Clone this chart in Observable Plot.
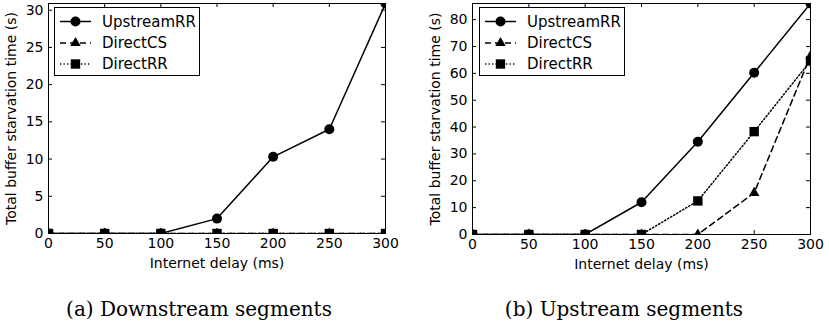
<!DOCTYPE html>
<html><head><meta charset="utf-8">
<script src="https://cdn.jsdelivr.net/npm/d3@7"></script>
<script src="https://cdn.jsdelivr.net/npm/@observablehq/plot@0.6"></script>
<style>
html,body{margin:0;padding:0;background:#fff;}
#root{position:relative;width:829px;height:329px;overflow:hidden;font-family:"DejaVu Sans";}
.panel{position:absolute;top:0;}
.cap{position:absolute;font-family:"DejaVu Serif";font-size:20px;white-space:nowrap;transform:translateX(-50%);line-height:1;color:#000;}
</style></head>
<body><div id="root"></div>
<script>
const delays = [0, 50, 100, 150, 200, 250, 300];
const seriesNames = ["UpstreamRR", "DirectCS", "DirectRR"];
// (a) Downstream segments
const downUpstreamRR = [0, 0, 0, 2.0, 10.3, 14.0, 30.9];
const downDirectCS   = [0, 0, 0, 0, 0, 0, 0];
const downDirectRR   = [0, 0, 0, 0, 0, 0, 0];
// (b) Upstream segments
const upUpstreamRR = [0, 0, 0, 12.0, 34.5, 60.2, 86.0];
const upDirectCS   = [0, 0, 0, 0, 0, 15.5, 66.5];
const upDirectRR   = [0, 0, 0, 0, 12.5, 38.3, 64.6];
const xTicks = [0, 50, 100, 150, 200, 250, 300];
const yTicksDown = [0, 5, 10, 15, 20, 25, 30];
const yTicksUp = [0, 10, 20, 30, 40, 50, 60, 70, 80];
const xLabel = "Internet delay (ms)";
const yLabel = "Total buffer starvation time (s)";
const captions = ["(a) Downstream segments", "(b) Upstream segments"];

const styles = {
  UpstreamRR: {dash: null, symbol: "circle", r: 5},
  DirectCS: {dash: "6,4", symbol: "triangle", r: 3.9},
  DirectRR: {dash: "1.3,2.2", symbol: "square", r: 5.3}
};

function makePanel(values, yTicks, opt) {
  const data = [];
  seriesNames.forEach((s, i) => delays.forEach((d, j) => data.push({series: s, x: d, y: values[i][j]})));
  const ymax = d3.max(data, d => d.y);
  const H = 280, mt = 3;
  const ph = H - mt - opt.mb, pw = opt.width - opt.ml - opt.mr, tl = 4;
  const marks = [];
  seriesNames.forEach(s => {
    const sd = data.filter(d => d.series === s);
    marks.push(Plot.line(sd, {x: "x", y: "y", stroke: "black", strokeWidth: 1.5, strokeDasharray: styles[s].dash, clip: true}));
    marks.push(Plot.dot(sd, {x: "x", y: "y", symbol: styles[s].symbol, r: styles[s].r, fill: "black", stroke: "none", clip: true}));
  });
  const svg = Plot.plot({
    width: opt.width, height: H,
    marginLeft: opt.ml, marginRight: opt.mr, marginTop: mt, marginBottom: opt.mb,
    style: {fontFamily: "DejaVu Sans", fontSize: "14px", background: "white", color: "black"},
    x: {domain: [0, 300]},
    y: {domain: [0, ymax]},
    marks: [
      ...marks,
      // inward tick marks on all four sides
      Plot.tickX(xTicks, {x: d => d, stroke: "black", insetTop: ph - tl}),
      Plot.tickX(xTicks, {x: d => d, stroke: "black", insetBottom: ph - tl}),
      Plot.tickY(yTicks, {y: d => d, stroke: "black", insetRight: pw - tl}),
      Plot.tickY(yTicks, {y: d => d, stroke: "black", insetLeft: pw - tl}),
      Plot.frame({stroke: "black", strokeWidth: 1}),
      Plot.axisX(xTicks, {anchor: "bottom", tickSize: 0, tickPadding: 5, fontSize: 14, label: xLabel, labelAnchor: "center", labelArrow: "none", labelOffset: 34}),
      Plot.axisY(yTicks, {anchor: "left", tickSize: 0, tickPadding: 5, fontSize: 14, label: yLabel, labelAnchor: "center", labelArrow: "none", labelOffset: 42})
    ]
  });
  // legend
  const g = d3.select(svg).append("g").attr("transform", `translate(${opt.lx},${opt.ly})`).attr("text-anchor", "start");
  g.append("rect").attr("x", 0.5).attr("y", 0.5).attr("width", 145).attr("height", 68).attr("fill", "white").attr("stroke", "black").attr("stroke-width", 1);
  const rowsY = [14.5, 36, 57];
  seriesNames.forEach((s, i) => {
    const y = rowsY[i];
    g.append("line").attr("x1", 6).attr("x2", 37).attr("y1", y).attr("y2", y).attr("stroke", "black").attr("stroke-width", 1.5).attr("stroke-dasharray", styles[s].dash);
    const sym = {circle: d3.symbolCircle, triangle: d3.symbolTriangle, square: d3.symbolSquare}[styles[s].symbol];
    g.append("path").attr("transform", `translate(21.5,${y})`).attr("d", d3.symbol(sym, Math.PI * styles[s].r * styles[s].r)()).attr("fill", "black");
    g.append("text").attr("x", 48).attr("y", y).attr("dy", "0.36em").attr("text-anchor", "start").attr("font-size", 15).attr("fill", "black").text(s);
  });
  return svg;
}

const root = document.getElementById("root");
const p1 = makePanel([downUpstreamRR, downDirectCS, downDirectRR], yTicksDown, {width: 414, ml: 48, mr: 29, mb: 47, lx: 54, ly: 7});
p1.classList.add("panel"); p1.style.left = "0px";
root.appendChild(p1);
const p2 = makePanel([upUpstreamRR, upDirectCS, upDirectRR], yTicksUp, {width: 415, ml: 58, mr: 19, mb: 46, lx: 65, ly: 7});
p2.classList.add("panel"); p2.style.left = "414px";
root.appendChild(p2);

const capX = [199, 624];
captions.forEach((c, i) => {
  const d = document.createElement("div");
  d.className = "cap";
  d.textContent = c;
  d.style.left = capX[i] + "px";
  d.style.top = "299px";
  root.appendChild(d);
});
</script>
</body></html>
